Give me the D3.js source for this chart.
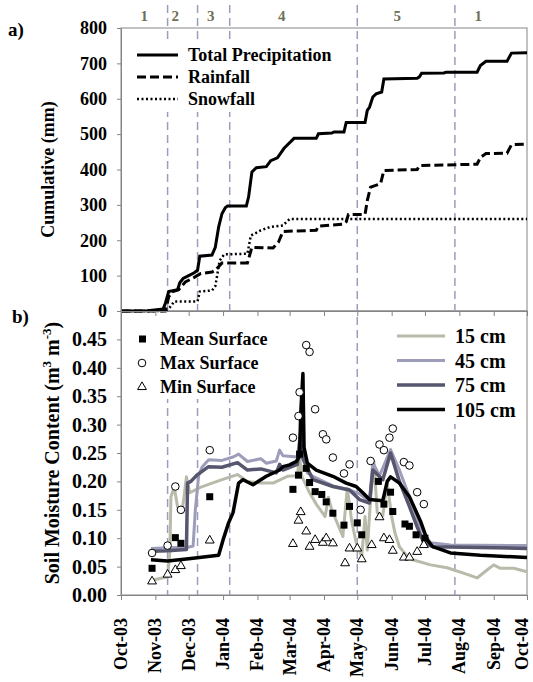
<!DOCTYPE html>
<html lang="en">
  <head>
    <meta charset="utf-8">
    <title>Cumulative precipitation and soil moisture</title>
    <script type="text/javascript" src="https://d3js.org/d3.v7.min.js"></script>
    <style type="text/css">
    body { margin: 0; background: #fff; }
    svg text {
      font-family: "Liberation Serif", "Times New Roman", serif;
      font-weight: bold;
      fill: #000;
    }
    .axis path, .axis line { stroke: #858585; }
    .axis text { font-size: 18px; }
    .axisb text { font-size: 20px; }
    .axisx text { font-size: 18px; }
    </style>
  </head>
  <body>
    <svg width="533" height="682" id="chart"></svg>
    <script type="text/javascript">

    // ---- data ----
    const totalPrecip = [
      ["2003-10-01",0],["2003-10-25",1],["2003-11-08",6],["2003-11-10",22],["2003-11-13",55],
      ["2003-11-21",60],["2003-11-23",80],["2003-11-26",92],["2003-12-01",100],["2003-12-06",108],
      ["2003-12-09",115],["2003-12-11",155],["2003-12-22",158],["2003-12-25",180],["2003-12-28",237],
      ["2003-12-31",275],["2004-01-03",292],["2004-01-05",297],["2004-01-22",297],["2004-01-24",322],
      ["2004-01-27",393],["2004-01-31",405],["2004-02-09",408],["2004-02-13",425],["2004-02-19",433],
      ["2004-02-25",460],["2004-03-05",488],["2004-03-25",488],["2004-03-27",501],["2004-04-08",503],
      ["2004-04-10",506],["2004-04-19",506],["2004-04-21",533],["2004-05-08",533],["2004-05-10",567],
      ["2004-05-12",576],["2004-05-15",605],["2004-05-18",614],["2004-05-23",619],["2004-05-25",656],
      ["2004-06-24",658],["2004-06-26",662],["2004-06-28",672],["2004-07-18",673],["2004-07-20",675],
      ["2004-08-17",675],["2004-08-20",694],["2004-08-25",706],["2004-09-13",706],["2004-09-17",729],
      ["2004-10-01",730]
    ];
    const rainfall = [
      ["2003-10-01",0],["2003-11-10",0],["2003-11-13",40],["2003-11-16",54],["2003-11-22",60],
      ["2003-11-28",82],["2003-12-06",95],["2003-12-12",106],["2003-12-22",110],["2003-12-25",115],
      ["2003-12-31",136],["2004-01-23",136],["2004-01-27",180],["2004-02-15",178],["2004-02-20",195],
      ["2004-02-24",225],["2004-03-25",228],["2004-03-27",240],["2004-04-19",246],["2004-04-21",252],
      ["2004-04-23",273],["2004-05-08",273],["2004-05-10",312],["2004-05-13",350],["2004-05-22",360],
      ["2004-05-25",397],["2004-06-24",400],["2004-06-26",411],["2004-08-17",415],["2004-08-20",434],
      ["2004-08-25",445],["2004-09-13",446],["2004-09-17",470],["2004-10-01",472]
    ];
    const snowfall = [
      ["2003-10-01",0],["2003-11-10",0],["2003-11-14",10],["2003-11-18",27],["2003-12-09",27],
      ["2003-12-11",55],["2003-12-22",58],["2003-12-25",70],["2003-12-29",143],["2004-01-02",160],
      ["2004-01-23",162],["2004-01-26",213],["2004-02-04",228],["2004-02-12",237],["2004-02-24",242],
      ["2004-03-01",260],["2004-10-01",260]
    ];

    const soil15 = [
      ["2003-10-27",0.025],["2003-11-12",0.032],["2003-11-14",0.075],["2003-11-15",0.173],["2003-11-18",0.19],
      ["2003-11-21",0.155],["2003-11-25",0.145],["2003-11-29",0.208],["2003-12-02",0.18],["2003-12-12",0.19],
      ["2003-12-31",0.203],["2004-01-14",0.212],["2004-01-23",0.2],["2004-02-04",0.197],["2004-02-15",0.197],
      ["2004-02-28",0.209],["2004-03-08",0.21],["2004-03-10",0.244],["2004-03-12",0.209],["2004-03-19",0.18],
      ["2004-03-25",0.16],["2004-04-02",0.138],["2004-04-05",0.172],["2004-04-08",0.15],["2004-04-18",0.103],
      ["2004-04-22",0.188],["2004-04-26",0.13],["2004-04-30",0.092],["2004-05-05",0.068],["2004-05-08",0.138],
      ["2004-05-10",0.079],["2004-05-13",0.17],["2004-05-16",0.235],["2004-05-19",0.145],["2004-05-24",0.14],
      ["2004-05-28",0.197],["2004-06-01",0.138],["2004-06-04",0.109],["2004-06-08",0.085],["2004-06-15",0.068],
      ["2004-06-20",0.062],["2004-07-06",0.053],["2004-07-21",0.048],["2004-08-04",0.039],["2004-08-17",0.03],
      ["2004-08-26",0.044],["2004-09-01",0.053],["2004-09-07",0.047],["2004-09-19",0.047],["2004-10-01",0.041]
    ];
    const soil45 = [
      ["2003-10-28",0.082],["2003-11-12",0.083],["2003-11-30",0.084],["2003-12-05",0.086],["2003-12-07",0.15],
      ["2003-12-10",0.21],["2003-12-13",0.225],["2003-12-19",0.238],["2003-12-31",0.237],["2004-01-10",0.243],
      ["2004-01-15",0.248],["2004-01-23",0.235],["2004-02-04",0.24],["2004-02-09",0.232],["2004-02-18",0.236],
      ["2004-02-21",0.255],["2004-02-24",0.245],["2004-03-08",0.243],["2004-03-11",0.29],["2004-03-13",0.25],
      ["2004-03-17",0.215],["2004-03-22",0.209],["2004-04-09",0.192],["2004-04-24",0.185],["2004-05-03",0.178],
      ["2004-05-12",0.165],["2004-05-15",0.233],["2004-05-21",0.21],["2004-05-31",0.256],["2004-06-08",0.22],
      ["2004-06-17",0.173],["2004-06-27",0.12],["2004-07-06",0.092],["2004-07-24",0.088],["2004-10-01",0.087]
    ];
    const soil75 = [
      ["2003-10-28",0.077],["2003-11-12",0.078],["2003-11-29",0.08],["2003-11-30",0.197],["2003-12-03",0.2],
      ["2003-12-09",0.212],["2003-12-19",0.226],["2003-12-31",0.225],["2004-01-14",0.233],["2004-01-23",0.22],
      ["2004-02-04",0.222],["2004-02-18",0.215],["2004-02-21",0.23],["2004-02-24",0.22],["2004-03-08",0.23],
      ["2004-03-11",0.285],["2004-03-13",0.24],["2004-03-22",0.203],["2004-04-09",0.191],["2004-04-24",0.185],
      ["2004-05-03",0.168],["2004-05-12",0.162],["2004-05-15",0.22],["2004-05-24",0.203],["2004-05-31",0.25],
      ["2004-06-08",0.2],["2004-06-17",0.156],["2004-06-24",0.12],["2004-06-30",0.092],["2004-07-08",0.085],
      ["2004-10-01",0.082]
    ];
    const soil105 = [
      ["2003-10-28",0.062],["2003-11-12",0.06],["2003-12-01",0.064],["2003-12-28",0.07],["2004-01-01",0.097],
      ["2004-01-06",0.127],["2004-01-10",0.145],["2004-01-15",0.197],["2004-01-19",0.203],["2004-01-28",0.194],
      ["2004-02-04",0.203],["2004-02-09",0.209],["2004-02-21",0.22],["2004-02-24",0.226],["2004-03-01",0.229],
      ["2004-03-07",0.235],["2004-03-10",0.244],["2004-03-11",0.32],["2004-03-13",0.39],["2004-03-14",0.26],
      ["2004-03-17",0.232],["2004-03-25",0.22],["2004-04-09",0.209],["2004-04-21",0.197],["2004-04-30",0.191],
      ["2004-05-06",0.18],["2004-05-12",0.168],["2004-05-24",0.166],["2004-05-28",0.2],["2004-05-31",0.208],
      ["2004-06-08",0.197],["2004-06-17",0.173],["2004-06-27",0.13],["2004-07-03",0.097],["2004-07-08",0.085],
      ["2004-07-24",0.074],["2004-08-20",0.07],["2004-10-01",0.066]
    ];

    const meanSurface = [
      ["2003-10-29",0.047],["2003-11-19",0.101],["2003-11-24",0.091],["2003-12-20",0.173],["2004-03-04",0.186],
      ["2004-03-09",0.211],["2004-03-10",0.248],["2004-03-16",0.223],["2004-03-19",0.198],["2004-03-24",0.182],
      ["2004-03-30",0.177],["2004-04-03",0.164],["2004-04-09",0.144],["2004-04-19",0.123],["2004-04-24",0.156],
      ["2004-05-01",0.127],["2004-05-05",0.106],["2004-05-20",0.200],["2004-05-25",0.160],["2004-05-31",0.181],
      ["2004-06-02",0.147],["2004-06-13",0.125],["2004-06-17",0.121],["2004-06-23",0.106],["2004-07-01",0.100]
    ];
    const maxSurface = [
      ["2003-10-29",0.074],["2003-11-12",0.087],["2003-11-19",0.191],["2003-11-24",0.150],["2003-12-20",0.255],
      ["2004-03-04",0.277],["2004-03-09",0.315],["2004-03-10",0.357],["2004-03-16",0.440],["2004-03-19",0.428],
      ["2004-03-24",0.327],["2004-03-31",0.283],["2004-04-03",0.274],["2004-04-09",0.242],["2004-04-19",0.214],
      ["2004-04-24",0.230],["2004-05-04",0.150],["2004-05-13",0.236],["2004-05-21",0.265],["2004-05-25",0.255],
      ["2004-05-30",0.277],["2004-06-02",0.293],["2004-06-12",0.234],["2004-06-17",0.228],["2004-06-24",0.181],
      ["2004-06-30",0.160]
    ];
    const minSurface = [
      ["2003-10-29",0.024],["2003-11-12",0.036],["2003-11-19",0.044],["2003-11-24",0.051],["2003-12-20",0.096],
      ["2004-03-04",0.090],["2004-03-09",0.131],["2004-03-11",0.146],["2004-03-16",0.112],["2004-03-19",0.085],
      ["2004-03-24",0.097],["2004-03-31",0.092],["2004-04-03",0.100],["2004-04-09",0.091],["2004-04-20",0.056],
      ["2004-04-24",0.082],["2004-05-01",0.082],["2004-05-05",0.063],["2004-05-14",0.088],["2004-05-21",0.137],
      ["2004-05-25",0.100],["2004-05-30",0.097],["2004-06-02",0.078],["2004-06-12",0.066],["2004-06-17",0.066],
      ["2004-06-24",0.076],["2004-06-30",0.088]
    ];

    const periodBounds = ["2003-11-12","2003-12-09","2004-01-07","2004-05-01","2004-07-28"];
    const periodLabels = ["1","2","3","4","5","1"];
    const periodLabelDates = ["2003-10-22","2003-11-19","2003-12-21","2004-02-23","2004-06-06","2004-08-18"];

    const yTicksA = d3.range(0, 801, 100);
    const yTicksB = [0, 0.05, 0.10, 0.15, 0.20, 0.25, 0.30, 0.35, 0.40, 0.45];

    // ---- layout ----
    const left = 121, right = 527;
    const topA = 28, bottomA = 311;
    const topB = 311, bottomB = 595;

    const parse = d3.timeParse("%Y-%m-%d");

    const xScale = d3.scaleTime()
        .domain([parse("2003-10-01"), parse("2004-10-01")])
        .range([left, right]);

    const yA = d3.scaleLinear().domain([0, 800]).range([bottomA, topA]);
    const yB = d3.scaleLinear().domain([0, 0.5]).range([bottomB, topB]);

    const svg = d3.select("#chart");

    // frames
    [[topA, bottomA], [topB, bottomB]].forEach(p => {
      svg.append("rect")
          .attr("x", left).attr("y", p[0])
          .attr("width", right - left).attr("height", p[1] - p[0])
          .attr("fill", "none").attr("stroke", "#858585");
    });

    // period boundaries
    svg.selectAll(".bound")
        .data(periodBounds)
        .enter()
        .append("line")
        .attr("class", "bound")
        .attr("x1", d => xScale(parse(d)))
        .attr("x2", d => xScale(parse(d)))
        .attr("y1", 5)
        .attr("y2", bottomB)
        .attr("stroke", "#9d9dbb")
        .attr("stroke-width", 1.5)
        .attr("stroke-dasharray", "8,5");

    svg.selectAll(".plabel")
        .data(periodLabels)
        .enter()
        .append("text")
        .attr("class", "plabel")
        .attr("x", (d, i) => xScale(parse(periodLabelDates[i])))
        .attr("y", 21)
        .attr("text-anchor", "middle")
        .style("font-size", "15px")
        .style("fill", "#6f6f55")
        .text(d => d);

    // legend backgrounds (hide boundary lines)
    svg.append("rect").attr("x", 124).attr("y", 42).attr("width", 222).attr("height", 70).attr("fill", "#fff");
    svg.append("rect").attr("x", 124).attr("y", 313).attr("width", 150).attr("height", 86).attr("fill", "#fff");
    svg.append("rect").attr("x", 386).attr("y", 313).attr("width", 139).attr("height", 111).attr("fill", "#fff");

    // ---- panel a ----
    const lineA = d3.line()
        .x(d => xScale(parse(d[0])))
        .y(d => yA(d[1]));

    svg.append("path").datum(snowfall).attr("d", lineA)
        .attr("fill", "none").attr("stroke", "#000").attr("stroke-width", 2.5)
        .attr("stroke-dasharray", "2,2.5");
    svg.append("path").datum(rainfall).attr("d", lineA)
        .attr("fill", "none").attr("stroke", "#000").attr("stroke-width", 3)
        .attr("stroke-dasharray", "9,4");
    svg.append("path").datum(totalPrecip).attr("d", lineA)
        .attr("fill", "none").attr("stroke", "#000").attr("stroke-width", 3);

    svg.append("g")
        .attr("class", "axis")
        .attr("transform", "translate(" + left + ",0)")
        .call(d3.axisLeft(yA).tickValues(yTicksA).tickSize(4).tickPadding(10).tickSizeOuter(0));

    svg.append("g")
        .attr("class", "axis")
        .attr("transform", "translate(0," + bottomA + ")")
        .call(d3.axisBottom(xScale).ticks(d3.timeMonth.every(1)).tickSize(5).tickSizeOuter(0).tickFormat(""));

    svg.append("text")
        .attr("transform", "translate(48," + ((topA + bottomA) / 2) + ") rotate(-90)")
        .attr("text-anchor", "middle")
        .attr("dy", "0.35em")
        .style("font-size", "18px")
        .text("Cumulative (mm)");

    svg.append("text").attr("x", 8).attr("y", 36).style("font-size", "19px").text("a)");

    // legend a
    const legA = [
      {name: "Total Precipitation", dash: null, w: 3},
      {name: "Rainfall", dash: "9,4", w: 3},
      {name: "Snowfall", dash: "2,2.5", w: 2.5}
    ];
    legA.forEach((d, i) => {
      const y = 55 + i * 22;
      svg.append("line").attr("x1", 137).attr("x2", 178).attr("y1", y).attr("y2", y)
          .attr("stroke", "#000").attr("stroke-width", d.w)
          .attr("stroke-dasharray", d.dash);
      svg.append("text").attr("x", 188).attr("y", y).attr("dy", "0.35em")
          .style("font-size", "18px").text(d.name);
    });

    // ---- panel b ----
    const lineB = d3.line()
        .x(d => xScale(parse(d[0])))
        .y(d => yB(d[1]));

    const depths = [
      {name: "15 cm", data: soil15, color: "#b9baa9", w: 3},
      {name: "45 cm", data: soil45, color: "#9d9dba", w: 3},
      {name: "75 cm", data: soil75, color: "#56566e", w: 3.5},
      {name: "105 cm", data: soil105, color: "#000000", w: 3.5}
    ];

    depths.forEach(s => {
      svg.append("path").datum(s.data).attr("d", lineB)
          .attr("fill", "none").attr("stroke", s.color)
          .attr("stroke-width", s.w).attr("stroke-linejoin", "round");
    });

    svg.selectAll(".mean")
        .data(meanSurface)
        .enter()
        .append("rect")
        .attr("class", "mean")
        .attr("x", d => xScale(parse(d[0])) - 3.5)
        .attr("y", d => yB(d[1]) - 3.5)
        .attr("width", 7).attr("height", 7)
        .attr("fill", "#000");

    svg.selectAll(".max")
        .data(maxSurface)
        .enter()
        .append("circle")
        .attr("class", "max")
        .attr("cx", d => xScale(parse(d[0])))
        .attr("cy", d => yB(d[1]))
        .attr("r", 3.8)
        .attr("fill", "#fff").attr("stroke", "#000").attr("stroke-width", 1);

    const tri = d3.symbol().type(d3.symbolTriangle).size(34);

    svg.selectAll(".min")
        .data(minSurface)
        .enter()
        .append("path")
        .attr("class", "min")
        .attr("d", tri)
        .attr("transform", d => "translate(" + xScale(parse(d[0])) + "," + yB(d[1]) + ")")
        .attr("fill", "#fff").attr("stroke", "#000").attr("stroke-width", 1);

    svg.append("g")
        .attr("class", "axis axisb")
        .attr("transform", "translate(" + left + ",0)")
        .call(d3.axisLeft(yB).tickValues(yTicksB).tickSize(4).tickPadding(10).tickSizeOuter(0)
          .tickFormat(d3.format(".2f")));

    const xLabels = svg.append("g")
        .attr("class", "axis axisx")
        .attr("transform", "translate(0," + bottomB + ")")
        .call(d3.axisBottom(xScale).ticks(d3.timeMonth.every(1)).tickSize(5).tickSizeOuter(0)
          .tickFormat(d3.timeFormat("%b-%y")))
        .selectAll("text")
          .attr("transform", "rotate(-90)")
          .attr("x", -23)
          .attr("y", 0)
          .attr("dy", "0.3em")
          .style("text-anchor", "end");

    // keep the last label inside the page edge
    xLabels.filter((d, i, n) => i === n.length - 1).attr("dy", "0.05em");

    const ytitle = svg.append("text")
        .attr("transform", "translate(52," + ((topB + bottomB) / 2) + ") rotate(-90)")
        .attr("text-anchor", "middle")
        .attr("dy", "0.35em")
        .style("font-size", "20px");
    ytitle.append("tspan").text("Soil Moisture Content (m");
    ytitle.append("tspan").attr("dy", -8).style("font-size", "13px").text("3");
    ytitle.append("tspan").attr("dy", 8).text(" m");
    ytitle.append("tspan").attr("dy", -8).style("font-size", "13px").text("-3");
    ytitle.append("tspan").attr("dy", 8).text(")");

    svg.append("text").attr("x", 12).attr("y", 323).style("font-size", "19px").text("b)");

    // legend b (markers)
    const legMarkers = ["Mean Surface", "Max Surface", "Min Surface"];
    legMarkers.forEach((name, i) => {
      const y = 339 + i * 24;
      if (i === 0) {
        svg.append("rect").attr("x", 139).attr("y", y - 3.5).attr("width", 7).attr("height", 7).attr("fill", "#000");
      } else if (i === 1) {
        svg.append("circle").attr("cx", 142).attr("cy", y).attr("r", 3.8)
            .attr("fill", "#fff").attr("stroke", "#000");
      } else {
        svg.append("path").attr("d", tri).attr("transform", "translate(142," + y + ")")
            .attr("fill", "#fff").attr("stroke", "#000");
      }
      svg.append("text").attr("x", 160).attr("y", y).attr("dy", "0.35em")
          .style("font-size", "18px").text(name);
    });

    // legend b (depths)
    depths.forEach((s, i) => {
      const y = 336 + i * 24.5;
      svg.append("line").attr("x1", 397).attr("x2", 445).attr("y1", y).attr("y2", y)
          .attr("stroke", s.color).attr("stroke-width", s.w);
      svg.append("text").attr("x", 455).attr("y", y).attr("dy", "0.35em")
          .style("font-size", "20px").text(s.name);
    });

    </script>
  </body>
</html>
